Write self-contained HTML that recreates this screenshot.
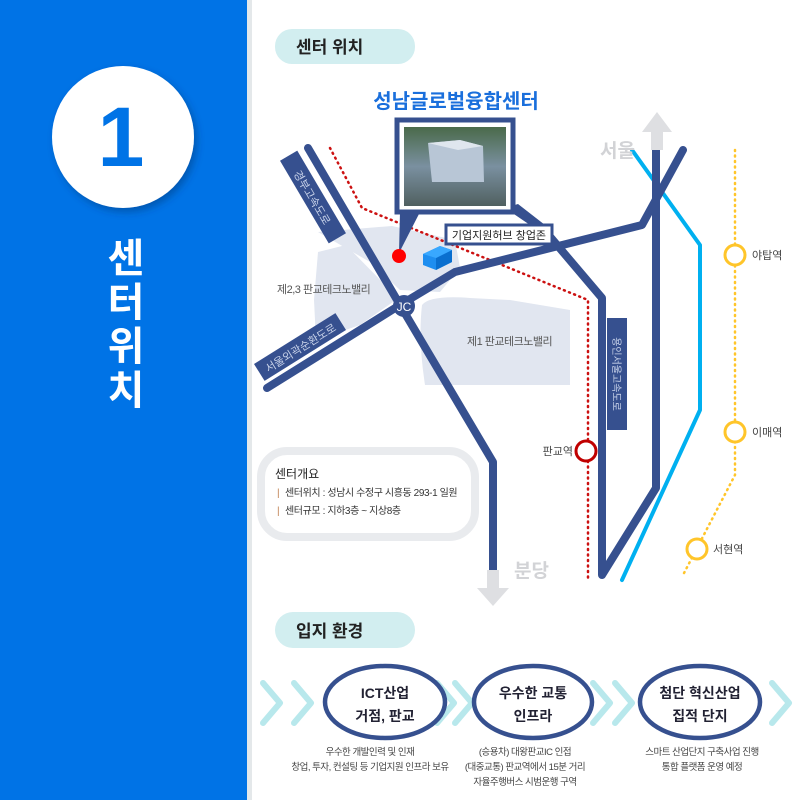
<!DOCTYPE html>
<html><head><meta charset="utf-8">
<style>
body{margin:0;width:800px;height:800px;overflow:hidden;background:#fff;font-family:"Liberation Sans","Noto Sans CJK KR",sans-serif;}
</style></head><body>
<svg width="800" height="800" viewBox="0 0 800 800" xmlns="http://www.w3.org/2000/svg" font-family="Liberation Sans, Noto Sans CJK KR, sans-serif">
<defs>
<filter id="sh" x="-20%" y="-20%" width="150%" height="150%"><feDropShadow dx="3" dy="4" stdDeviation="4" flood-color="#003070" flood-opacity="0.45"/></filter>
<linearGradient id="ph" x1="0" y1="0" x2="0" y2="1"><stop offset="0" stop-color="#4a6a4a"/><stop offset="0.5" stop-color="#7a90a0"/><stop offset="1" stop-color="#506060"/></linearGradient>
</defs>
<rect x="0" y="0" width="247" height="800" fill="#0073e6"/>
<rect x="247" y="0" width="5" height="800" fill="#e4e8ea"/>
<circle cx="123" cy="137" r="71" fill="#fff" filter="url(#sh)"/>
<text x="121" y="166" font-size="84" font-weight="bold" fill="#0073e6" text-anchor="middle">1</text>
<g font-size="40" font-weight="bold" fill="#fff" text-anchor="middle">
<text x="126" y="272">센</text><text x="126" y="316">터</text><text x="126" y="360">위</text><text x="126" y="404">치</text>
</g>

<!-- header pills -->
<rect x="275" y="29" width="140" height="35" rx="17" fill="#d2eef0"/>
<text x="296" y="53" font-size="17" font-weight="bold" fill="#222">센터 위치</text>
<rect x="275" y="612" width="140" height="36" rx="18" fill="#d2eef0"/>
<text x="296" y="637" font-size="17" font-weight="bold" fill="#222">입지 환경</text>

<!-- gray areas -->
<path d="M318 232 L392 226 L455 240 L460 268 L440 292 L400 290 L370 262 Z" fill="#e1e6f0"/>
<path d="M318 252 L346 245 L392 292 L393 302 L360 325 L316 340 L314 300 Z" fill="#e1e6f0"/>
<path d="M422 305 Q430 295 470 298 L510 300 L570 310 L570 385 L425 385 Q418 340 422 305 Z" fill="#e1e6f0"/>

<!-- red dotted line -->
<path d="M330 148 L362 208 L588 300 L588 578" fill="none" stroke="#cc1111" stroke-width="2.5" stroke-dasharray="1 4.5" stroke-linecap="round"/>
<!-- yellow dotted -->
<path d="M735 150 L735 475 L683 575" fill="none" stroke="#ffc52a" stroke-width="2.5" stroke-dasharray="1 4.5" stroke-linecap="round"/>
<!-- cyan -->
<path d="M632 150 L700 245 L700 410 L622 580" fill="none" stroke="#00b0f0" stroke-width="4" stroke-linecap="round" stroke-linejoin="round"/>

<!-- roads -->
<g fill="none" stroke="#36508f" stroke-width="8" stroke-linecap="round" stroke-linejoin="round">
<path d="M308 148 L400 305 L493 462 L493 575"/>
<path d="M267 388 L400 305 L455 272 L642 225 L683 150"/>
<path d="M546 232 L602 298 L602 575 L656 488 L656 150"/>
</g>
<!-- road labels -->
<g transform="translate(313,197) rotate(59.5)">
<rect x="-48" y="-10" width="96" height="20" fill="#36508f"/>
<text x="0" y="5" font-size="11" fill="#c9d3ea" text-anchor="middle">경부고속도로</text>
</g>
<g transform="translate(300,347) rotate(-32)">
<rect x="-48" y="-10" width="96" height="20" fill="#36508f"/>
<text x="0" y="5" font-size="11" fill="#c9d3ea" text-anchor="middle">서울외곽순환도로</text>
</g>
<g transform="translate(617,374) rotate(90)">
<rect x="-56" y="-10" width="112" height="20" fill="#36508f"/>
<text x="0" y="4" font-size="10" fill="#c9d3ea" text-anchor="middle">용인서울고속도로</text>
</g>

<!-- JC -->
<circle cx="404" cy="306" r="11" fill="#36508f"/>
<text x="404" y="311" font-size="12" fill="#fff" text-anchor="middle">JC</text>

<!-- arrows -->
<path d="M651 150 L651 132 L642 132 L657 112 L672 132 L663 132 L663 150 Z" fill="#dedfe2"/>
<path d="M487 570 L499 570 L499 588 L509 588 L493 606 L477 588 L487 588 Z" fill="#dedfe2"/>
<text x="600" y="157" font-size="19" font-weight="bold" fill="#d2d3d6">서울</text>
<text x="514" y="577" font-size="19" font-weight="bold" fill="#d2d3d6">분당</text>

<!-- title & callout -->
<text x="456" y="108" font-size="20" font-weight="bold" fill="#1a6fdc" text-anchor="middle">성남글로벌융합센터</text>
<path d="M400 212 L399 253 L420 212 Z" fill="#36508f"/>
<path d="M505 208 L530 225 L545 225 L518 204 Z" fill="#36508f"/>
<rect x="397" y="120" width="116" height="92" fill="#fff" stroke="#36508f" stroke-width="5"/>
<rect x="404" y="127" width="102" height="79" fill="url(#ph)"/>
<path d="M428 143 L460 140 L483 146 L484 182 L432 182 Z" fill="#b8c6d6"/>
<path d="M428 143 L460 140 L483 146 L458 150 Z" fill="#dfe6ee"/>
<circle cx="399" cy="256" r="7" fill="#ff0000"/>
<rect x="446" y="225" width="106" height="19" fill="#fff" stroke="#36508f" stroke-width="3"/>
<text x="499" y="239" font-size="11" fill="#222" text-anchor="middle">기업지원허브 창업존</text>
<path d="M423 254 L440 246 L452 250 L452 262 L436 270 L423 265 Z" fill="#1e8ef0"/>
<path d="M436 258 L452 250 L452 262 L436 270 Z" fill="#0a6fcf"/>
<path d="M423 254 L440 246 L452 250 L436 258 Z" fill="#39a8ff"/>

<!-- area labels -->
<text x="277" y="293" font-size="11" fill="#555" letter-spacing="-0.5">제2,3 판교테크노밸리</text>
<text x="467" y="345" font-size="11" fill="#555" letter-spacing="-0.5">제1 판교테크노밸리</text>

<!-- stations -->
<circle cx="586" cy="451" r="10" fill="#fff" stroke="#c00000" stroke-width="3"/>
<text x="573" y="455" font-size="11" fill="#444" text-anchor="end">판교역</text>
<circle cx="735" cy="255" r="10" fill="#fff" stroke="#ffc52a" stroke-width="3"/>
<text x="752" y="259" font-size="11" fill="#444">야탑역</text>
<circle cx="735" cy="432" r="10" fill="#fff" stroke="#ffc52a" stroke-width="3"/>
<text x="752" y="436" font-size="11" fill="#444">이매역</text>
<circle cx="697" cy="549" r="10" fill="#fff" stroke="#ffc52a" stroke-width="3"/>
<text x="713" y="553" font-size="11" fill="#444">서현역</text>

<!-- info box -->
<rect x="261" y="451" width="214" height="86" rx="26" fill="#fff" stroke="#e9ebee" stroke-width="8"/>
<text x="275" y="478" font-size="12" fill="#222">센터개요</text>
<text x="277" y="496" font-size="10" fill="#c08050">|</text>
<text x="285" y="496" font-size="10" fill="#333" letter-spacing="-0.4">센터위치 : 성남시 수정구 시흥동 293-1 일원</text>
<text x="277" y="514" font-size="10" fill="#c08050">|</text>
<text x="285" y="514" font-size="10" fill="#333" letter-spacing="-0.4">센터규모 : 지하3층 ~ 지상8층</text>

<!-- chevrons -->
<g fill="none" stroke="#b8e8ec" stroke-width="6" stroke-linecap="round" stroke-linejoin="round">
<path d="M263 683 L280 703 L263 723"/>
<path d="M294 683 L311 703 L294 723"/>
<path d="M437 683 L454 703 L437 723"/>
<path d="M455 683 L472 703 L455 723"/>
<path d="M593 683 L610 703 L593 723"/>
<path d="M615 683 L632 703 L615 723"/>
<path d="M772 683 L789 703 L772 723"/>
</g>
<g fill="#fff" stroke="#36508f" stroke-width="4.5">
<ellipse cx="385" cy="702" rx="60" ry="36"/>
<ellipse cx="533" cy="702" rx="59" ry="36"/>
<ellipse cx="700" cy="702" rx="60" ry="36"/>
</g>
<g font-size="14" font-weight="bold" fill="#223" text-anchor="middle">
<text x="385" y="698">ICT산업</text><text x="385" y="721">거점, 판교</text>
<text x="533" y="698">우수한 교통</text><text x="533" y="721">인프라</text>
<text x="700" y="698">첨단 혁신산업</text><text x="700" y="721">집적 단지</text>
</g>
<g font-size="9.5" fill="#444" text-anchor="middle" letter-spacing="-0.5">
<text x="370" y="755">우수한 개발인력 및 인재</text>
<text x="370" y="770">창업, 투자, 컨설팅 등 기업지원 인프라 보유</text>
<text x="525" y="755">(승용차) 대왕판교IC 인접</text>
<text x="525" y="770">(대중교통) 판교역에서 15분 거리</text>
<text x="525" y="785">자율주행버스 시범운행 구역</text>
<text x="702" y="755">스마트 산업단지 구축사업 진행</text>
<text x="702" y="770">통합 플랫폼 운영 예정</text>
</g>
</svg>
</body></html>
